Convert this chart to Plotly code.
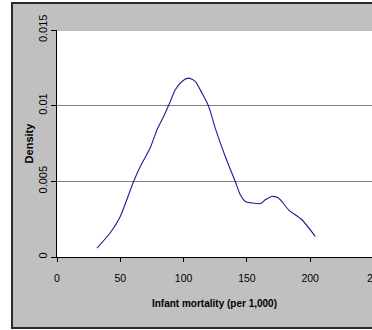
import plotly.graph_objects as go

# Kernel density estimate of infant mortality (per 1,000)
mortality = [31.6, 42.1, 50.0, 60.5, 65.8, 73.7, 79.0, 84.2, 89.5, 93.4, 98.7,
             103.9, 109.2, 114.5, 119.8, 125.0, 132.9, 140.8, 144.8, 148.7,
             154.0, 160.6, 164.5, 169.8, 175.0, 182.9, 193.5, 204.0]
density = [0.00059, 0.00160, 0.00268, 0.00499, 0.00598, 0.00722, 0.00841,
           0.00929, 0.01028, 0.01105, 0.01160, 0.01182, 0.01160, 0.01083,
           0.00995, 0.00852, 0.00664, 0.00499, 0.00411, 0.00367, 0.00357,
           0.00352, 0.00378, 0.00400, 0.00390, 0.00312, 0.00246, 0.00136]

x_ticks = [0, 50, 100, 150, 200]
y_ticks = [0, 0.005, 0.01, 0.015]
y_tick_text = ["0", "0.005", "0.01", "0.015"]

SANS = "Liberation Sans, Arial, sans-serif"

fig = go.Figure()
fig.add_trace(go.Scatter(
    x=mortality, y=density, mode="lines",
    line=dict(color="#1c1c96", width=1.1, shape="spline", smoothing=0.6),
    hoverinfo="skip", showlegend=False,
))

W, H = 372, 330
L, T, B = 57, 30, 73
plot_w = W - L
plot_h = H - T - B

def px_x(p):
    return (p - L) / plot_w

def px_y(p):
    return (H - B - p) / plot_h

fig.update_layout(
    width=W, height=H,
    margin=dict(l=L, r=0, t=T, b=B),
    paper_bgcolor="white",
    plot_bgcolor="white",
    showlegend=False,
    shapes=[
        # grey chart area with dark frame
        dict(type="rect", xref="paper", yref="paper", layer="below",
             x0=px_x(12), x1=px_x(420), y0=px_y(328), y1=px_y(3),
             fillcolor="#c0c0c0", line=dict(color="#2a2a2a", width=2)),
        # white plot area
        dict(type="rect", xref="x domain", yref="y domain", layer="below",
             x0=0, x1=1, y0=0, y1=1, fillcolor="white", line=dict(width=0)),
        # top grid line at 0.015
        dict(type="line", xref="x domain", yref="y", layer="above",
             x0=0, x1=1, y0=0.015, y1=0.015,
             line=dict(color="#808080", width=1)),
    ],
    xaxis=dict(
        range=[0, plot_w / 1.266],
        tickvals=x_ticks,
        ticks="outside", ticklen=4, tickcolor="black", tickwidth=1,
        ticklabelstandoff=7,
        showline=True, linecolor="black", linewidth=1,
        showgrid=False, zeroline=False,
        tickfont=dict(family=SANS, size=10.5, color="black"),
        title=dict(text="<b>Infant mortality (per 1,000)</b>",
                   font=dict(family=SANS, size=10, color="black"),
                   standoff=17),
    ),
    yaxis=dict(
        range=[0, 0.015],
        tickvals=y_ticks, ticktext=y_tick_text, tickangle=-90,
        ticks="outside", ticklen=5, tickcolor="black", tickwidth=1,
        ticklabelstandoff=0,
        showline=True, linecolor="black", linewidth=1,
        showgrid=True, gridcolor="#808080", gridwidth=1,
        zeroline=False,
        tickfont=dict(family=SANS, size=11, color="black"),
        title=dict(text="<b>Density</b>",
                   font=dict(family=SANS, size=11, color="black"),
                   standoff=0),
    ),
    annotations=[
        # last tick label, centred just past the right edge of the page
        dict(text="250", xref="paper", yref="paper",
             x=px_x(375.5), y=px_y(278), xanchor="center", yanchor="middle",
             showarrow=False,
             font=dict(family=SANS, size=10.5, color="black")),
    ],
)

fig.write_html("out.html")
